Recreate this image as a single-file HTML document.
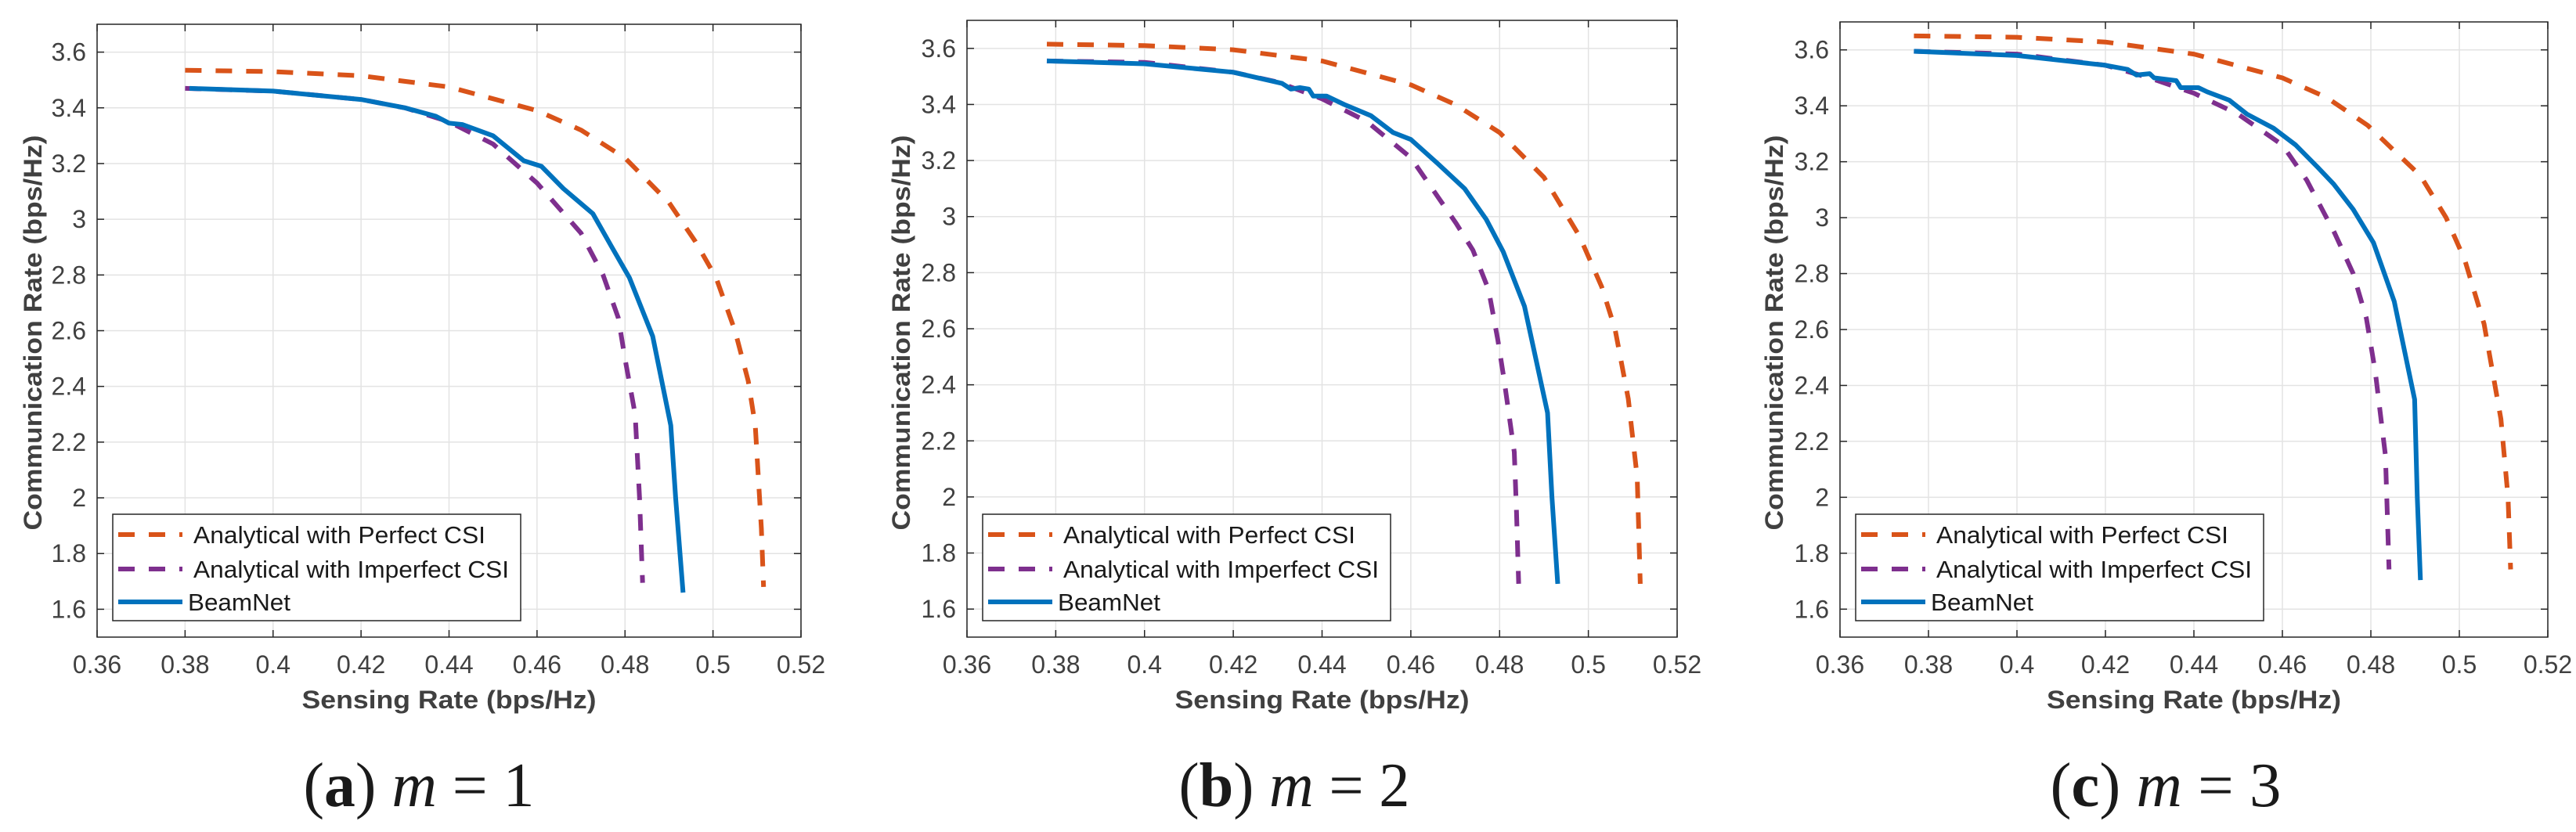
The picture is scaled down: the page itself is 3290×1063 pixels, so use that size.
<!DOCTYPE html>
<html><head><meta charset="utf-8"><style>
html,body{margin:0;padding:0;background:#fff;}
svg{display:block;}
text{font-family:"Liberation Sans",Arial,sans-serif;}
</style></head><body>
<svg id="fig" width="3290" height="1063" viewBox="0 0 3290 1063" xmlns="http://www.w3.org/2000/svg"></svg>
<script>
// ---- data ----
const xTicks = [0.36,0.38,0.40,0.42,0.44,0.46,0.48,0.50,0.52];
const xTickLabels = ["0.36","0.38","0.4","0.42","0.44","0.46","0.48","0.5","0.52"];
const yTicks = [1.6,1.8,2.0,2.2,2.4,2.6,2.8,3.0,3.2,3.4,3.6];
const yTickLabels = ["1.6","1.8","2","2.2","2.4","2.6","2.8","3","3.2","3.4","3.6"];
const seriesNames = ["Analytical with Perfect CSI","Analytical with Imperfect CSI","BeamNet"];
const captions = ["a","b","c"];
const captionM = ["1","2","3"];

// panel (a) m=1
const a_perfect_x = [0.38,0.40,0.42,0.44,0.46,0.47,0.48,0.49,0.496,0.5007,0.505,0.508,0.5096,0.511,0.5115];
const a_perfect_y = [3.535,3.53,3.515,3.475,3.39,3.32,3.22,3.06,2.92,2.79,2.6,2.42,2.26,1.89,1.68];
const a_imperf_x = [0.38,0.40,0.42,0.43,0.44,0.45,0.46,0.47,0.475,0.4785,0.480,0.4823,0.4833,0.484];
const a_imperf_y = [3.47,3.46,3.43,3.40,3.35,3.27,3.13,2.95,2.80,2.645,2.50,2.30,2.0,1.695];
const a_beam_x = [0.381,0.40,0.42,0.43,0.437,0.44,0.443,0.45,0.457,0.461,0.466,0.4727,0.477,0.481,0.4863,0.4904,0.4915,0.4932];
const a_beam_y = [3.47,3.46,3.43,3.40,3.37,3.345,3.34,3.30,3.21,3.19,3.11,3.02,2.90,2.79,2.58,2.26,2.0,1.66];

// panel (b) m=2
const b_perfect_x = [0.378,0.40,0.42,0.44,0.46,0.47,0.48,0.49,0.498,0.503,0.506,0.509,0.511,0.5117];
const b_perfect_y = [3.615,3.61,3.595,3.555,3.47,3.40,3.30,3.14,2.93,2.75,2.6,2.35,2.07,1.69];
const b_imperf_x = [0.378,0.40,0.42,0.43,0.44,0.45,0.46,0.4702,0.474,0.4775,0.4796,0.481,0.4833,0.4838,0.4843];
const b_imperf_y = [3.555,3.55,3.515,3.48,3.42,3.34,3.21,2.976,2.88,2.74,2.56,2.42,2.16,1.95,1.69];
const b_beam_x = [0.378,0.40,0.42,0.431,0.433,0.435,0.437,0.438,0.441,0.445,0.451,0.456,0.460,0.466,0.4721,0.477,0.4808,0.4856,0.4908,0.4918,0.4931];
const b_beam_y = [3.555,3.545,3.515,3.475,3.455,3.46,3.455,3.43,3.43,3.40,3.36,3.30,3.275,3.19,3.10,2.99,2.875,2.68,2.30,2.0,1.69];

// panel (c) m=3
const c_perfect_x = [0.3767,0.40,0.42,0.44,0.46,0.47,0.4793,0.4912,0.497,0.5012,0.5056,0.5094,0.511,0.5116];
const c_perfect_y = [3.65,3.645,3.628,3.585,3.50,3.43,3.33,3.15,3.0,2.85,2.62,2.28,2.0,1.742];
const c_imperf_x = [0.3767,0.40,0.42,0.43,0.44,0.45,0.46,0.4655,0.4718,0.476,0.479,0.481,0.4833,0.4837,0.4841];
const c_imperf_y = [3.595,3.585,3.545,3.50,3.445,3.37,3.26,3.134,2.945,2.80,2.64,2.45,2.15,1.95,1.742];
const c_beam_x = [0.3767,0.40,0.42,0.425,0.427,0.430,0.431,0.436,0.437,0.441,0.443,0.448,0.452,0.458,0.463,0.468,0.4716,0.476,0.4806,0.4853,0.4899,0.4905,0.4912];
const c_beam_y = [3.595,3.58,3.545,3.53,3.51,3.515,3.50,3.49,3.465,3.465,3.45,3.42,3.37,3.32,3.26,3.18,3.12,3.03,2.91,2.70,2.35,2.0,1.704];

const panels = [
  {L:124, R:1023, T:31, B:814, ttlX:41, perfX:a_perfect_x, perfY:a_perfect_y, impX:a_imperf_x, impY:a_imperf_y, bnX:a_beam_x, bnY:a_beam_y},
  {L:1235, R:2142, T:26, B:814, ttlX:1150, perfX:b_perfect_x, perfY:b_perfect_y, impX:b_imperf_x, impY:b_imperf_y, bnX:b_beam_x, bnY:b_beam_y},
  {L:2350, R:3254, T:28, B:814, ttlX:2265, perfX:c_perfect_x, perfY:c_perfect_y, impX:c_imperf_x, impY:c_imperf_y, bnX:c_beam_x, bnY:c_beam_y}
];
const colors = ["#D95319","#7E2F8E","#0072BD"];
const xMin = 0.36, xMax = 0.52, yMin = 1.5, yMax = 3.7;

const NS = "http://www.w3.org/2000/svg";
const svg = document.getElementById("fig");
function mk(tag, attrs, parent){
  const e = document.createElementNS(NS, tag);
  for (const k in attrs) e.setAttribute(k, attrs[k]);
  (parent||svg).appendChild(e);
  return e;
}

panels.forEach((p, pi) => {
  const sx = v => p.L + (v - xMin) / (xMax - xMin) * (p.R - p.L);
  const sy = v => p.B - (v - yMin) / (yMax - yMin) * (p.B - p.T);
  const g = mk("g", {});
  
  

  xTicks.forEach(t => {
    const l = mk("line", {x1:sx(t), x2:sx(t), y1:p.T, y2:p.B, stroke:"#e3e3e3", "stroke-width":1.5}, g);
    
    
  });
  yTicks.forEach(t => {
    const l = mk("line", {x1:p.L, x2:p.R, y1:sy(t), y2:sy(t), stroke:"#e3e3e3", "stroke-width":1.5}, g);
    
    
  });
  xTicks.forEach((t,i) => {
    mk("line", {x1:sx(t), x2:sx(t), y1:p.B, y2:p.B-9, stroke:"#262626", "stroke-width":1.5}, g);
    mk("line", {x1:sx(t), x2:sx(t), y1:p.T, y2:p.T+9, stroke:"#262626", "stroke-width":1.5}, g);
    const tx = mk("text", {x:sx(t), y:p.B+46, "text-anchor":"middle", "font-size":32, fill:"#404040"}, g);
    tx.textContent = xTickLabels[i];
    
    
  });
  yTicks.forEach((t,i) => {
    mk("line", {x1:p.L, x2:p.L+9, y1:sy(t), y2:sy(t), stroke:"#262626", "stroke-width":1.5}, g);
    mk("line", {x1:p.R, x2:p.R-9, y1:sy(t), y2:sy(t), stroke:"#262626", "stroke-width":1.5}, g);
    const tx = mk("text", {x:p.L-14, y:sy(t)+11, "text-anchor":"end", "font-size":32, fill:"#404040"}, g);
    tx.textContent = yTickLabels[i];
    
    
  });
  const box = mk("rect", {x:p.L, y:p.T, width:p.R-p.L, height:p.B-p.T, fill:"none", stroke:"#262626", "stroke-width":1.5}, g);
  
  

  const sets = [[p.perfX,p.perfY,"21 18"],[p.impX,p.impY,"21 18"],[p.bnX,p.bnY,null]];
  const snames = ["perfect-csi-curve","imperfect-csi-curve","beamnet-curve"];
  sets.forEach((s, si) => {
    const d = s[0].map((x,i) => (i?"L":"M") + sx(x).toFixed(1) + " " + sy(s[1][i]).toFixed(1)).join(" ");
    const a = {d:d, fill:"none", stroke:colors[si], "stroke-width":6, "stroke-linejoin":"round"};
    if (s[2]) a["stroke-dasharray"] = s[2];
    const path = mk("path", a, g);
    
    
  });

  const xt = mk("text", {x:(p.L+p.R)/2, y:p.B+91, "text-anchor":"middle", "font-size":32, "font-weight":"bold", fill:"#404040", textLength:376, lengthAdjust:"spacingAndGlyphs"}, g);
  xt.textContent = "Sensing Rate (bps/Hz)";
  
  
  const yt = mk("text", {x:0, y:0, "text-anchor":"middle", "font-size":32, "font-weight":"bold", fill:"#404040", textLength:505, lengthAdjust:"spacingAndGlyphs", transform:"translate(" + (p.ttlX+12) + "," + 425 + ") rotate(-90)"}, g);
  yt.textContent = "Communication Rate (bps/Hz)";
  
  

  const lx = p.L + 20, ly = 657;
  const lg = mk("g", {}, g);
  
  
  mk("rect", {x:lx, y:ly, width:521, height:136, fill:"#fff", stroke:"#262626", "stroke-width":1.5}, lg);
  const rowY = [683, 727, 769];
  const textX = [247-144, 247-144, 240-144];
  const textLen = [373, 403, 131];
  seriesNames.forEach((n, si) => {
    const a = {x1:lx+7, x2:lx+89, y1:rowY[si], y2:rowY[si], stroke:colors[si], "stroke-width":6};
    if (si < 2) a["stroke-dasharray"] = "21 18";
    const sl = mk("line", a, lg);
    
    
    const t = mk("text", {x:lx+textX[si], y:rowY[si]+11, "font-size":31, fill:"#1a1a1a", textLength:textLen[si], lengthAdjust:"spacingAndGlyphs"}, lg);
    t.textContent = n;
    
    
  });

  const cx = [535, 1653, 2766][pi];
  const cap = mk("text", {x:cx, y:1030, "text-anchor":"middle", "font-size":80, fill:"#1a1a1a", textLength:295, lengthAdjust:"spacingAndGlyphs", style:"font-family:'Liberation Serif',serif"}, g);
  
  
  const s1 = mk("tspan", {}, cap); s1.textContent = "(";
  const s2 = mk("tspan", {"font-weight":"bold"}, cap); s2.textContent = captions[pi];
  const s3 = mk("tspan", {}, cap); s3.textContent = ") ";
  const s4 = mk("tspan", {"font-style":"italic"}, cap); s4.textContent = "m";
  const s5 = mk("tspan", {}, cap); s5.textContent = " = " + captionM[pi];
});
</script>
</body></html>
